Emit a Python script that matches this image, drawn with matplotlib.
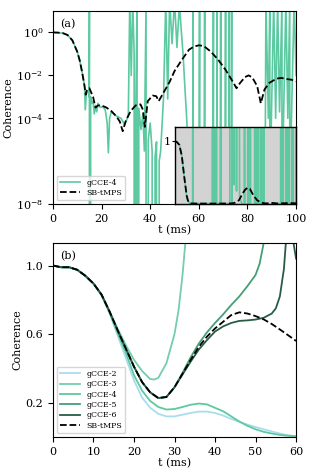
import matplotlib
matplotlib.use("Agg")
import matplotlib.pyplot as plt

plt.rcParams['font.family'] = 'DejaVu Serif'
plt.rcParams['mathtext.fontset'] = 'dejavuserif'
plt.rcParams['font.size'] = 8

# ---- panel (a): long-time coherence (log scale) ----
t_sb = [0, 2, 4, 6, 8, 10, 11, 12, 13, 13.5, 14, 15, 16.5, 17.5, 18.5, 20, 22, 24, 26, 27.5,
        28.7, 30, 32, 34, 36, 37, 37.8, 39, 41, 42.5, 43.5, 45, 48, 50, 53, 56, 58, 60, 62,
        65, 68, 71, 74, 75.5, 77, 79, 80.5, 82, 84, 85.5, 87, 89, 92, 94, 96, 98, 100]
log_sb = [0, -0.01, -0.03, -0.12, -0.37, -0.9, -1.3, -1.85, -2.5, -2.9, -2.66, -2.6, -3.0, -3.5,
          -3.4, -3.4, -3.5, -3.66, -3.9, -4.15, -4.6, -4.1, -3.66, -3.4, -3.35, -3.6, -4.4, -3.2,
          -2.94, -2.97, -3.2, -2.9, -2.3, -1.8, -1.28, -0.8, -0.66, -0.6, -0.63, -0.9, -1.28,
          -1.74, -2.3, -2.6, -2.35, -2.08, -2.0, -2.1, -2.5, -3.3, -2.66, -2.35, -2.15, -2.12,
          -2.17, -2.2, -2.28]
c_sb = [10 ** v for v in log_sb]

# gCCE-4 diverges after ~13 ms (negative values drop out of the log axis)
t_g4 = [0, 2, 4, 6, 8, 10, 11, 12, 13, 13.3, 13.8, 14.5, 14.9, 15.0, 15.1, 15.5, 16.0, 16.5,
        17.0, 17.5, 18.0, 18.5, 19.5, 20.5, 21.5, 22.3, 22.8, 23.3, 24.0, 25.0, 26.0, 28.0,
        29.5, 31.0,
        31.6, 32.2, 32.8, 33.4, 33.5, 34.0, 34.6, 34.7, 35.3, 36.2, 37.0, 37.6, 38.3, 38.4,
        39.2, 40.0, 40.8, 41.4, 42.0, 42.6, 43.2, 43.7, 44.3,
        45.5, 46.4, 47.2, 48.0, 49.0, 50.0, 51.0, 52.0, 53.5, 55.5,
        56.5, 57.5, 57.6, 57.7, 60.2, 60.3, 60.4, 62.3, 62.4, 62.5, 65.9, 66.0, 66.1, 67.4,
        67.5, 67.6, 68.9, 69.0, 69.1, 70.9, 71.0, 71.1, 72.4, 72.5, 72.6, 73.4, 73.5, 73.6,
        80.0, 87.3, 87.6, 88.6, 89.2, 89.3, 89.5, 90.8, 91.6, 92.4, 93.2, 94.2, 94.3, 94.5,
        95.8, 96.6, 97.4, 97.5, 97.7, 99.2, 100.0]
c_g4 = [1.0, 0.977, 0.933, 0.759, 0.427, 0.126, 0.05, 0.0141, 3.2e-3, 2.5e-4, 2.0e-3, 1.6e-3,
        1.0e-3, 50.0, -0.5, 1.0e-3, 5.0e-4, 6.3e-4, 1.6e-4, 4.0e-4, 2.0e-4, 5.0e-4, 3.2e-4,
        3.5e-4, 2.5e-4, 6.3e-5, 2.5e-6, 1.0e-4, 2.0e-4, 1.6e-4, 1.3e-4, 1.0e-4, 5.0e-5,
        1.3e-4,
        30.0, 1.0e-2, 30.0, 0.1, -1.0, 3.0e-5, 40.0, -1.0, 3.0e-4, 3.0e-5, 1.6e-4, 3.0e-6,
        20.0, -1.0, 1.0e-5, 6.0e-5, 3.0e-6, -1.0, 1.6e-6, 8.0e-6, -1.0, 1.0e-6, 3.0e-6,
        1.0e-3, 30.0, 8.0e-4, 30.0, 0.3, 30.0, 0.2, 20.0, 0.1, 1.0e-5,
        -1.0, 1.0e-6, 30.0, -1.0, 1.0e-6, 30.0, -1.0, 1.0e-6, 30.0, -1.0, 1.0e-6, 30.0, -1.0,
        1.0e-6, 30.0, -1.0, 1.0e-6, 30.0, -1.0, 1.0e-6, 30.0, -1.0, 1.0e-6, 30.0, -1.0,
        1.0e-6, 30.0, -1.0,
        1.0e-6, 1.0e-6, 30.0, 1.0e-4, 30.0, -1.0, 1.0e-6, 30.0, 1.0e-4, 30.0, 2.0e-4, 30.0,
        -1.0, 1.0e-6, 30.0, 1.0e-4, 30.0, -1.0, 1.0e-6, 30.0, 1.0e-2]
assert len(t_g4) == len(c_g4)

# ---- panel (b): short-time coherence (linear) ----
t_b = [0, 2, 4, 6, 8, 10, 12, 14, 16, 18, 20, 22, 24, 26, 28, 30, 32, 34, 36, 38, 40, 42,
       44, 46, 48, 50, 52, 54, 56, 58, 60]
c_tmps = [1.0, 0.99, 0.99, 0.975, 0.94, 0.895, 0.83, 0.73, 0.62, 0.515, 0.41, 0.32, 0.26,
          0.227, 0.233, 0.29, 0.37, 0.45, 0.526, 0.585, 0.633, 0.672, 0.711, 0.727, 0.72,
          0.705, 0.686, 0.659, 0.627, 0.594, 0.56]
c_cce2 = [1.0, 0.99, 0.99, 0.975, 0.94, 0.895, 0.825, 0.72, 0.59, 0.46, 0.33, 0.23, 0.17,
          0.135, 0.12, 0.12, 0.13, 0.14, 0.148, 0.148, 0.14, 0.125, 0.105, 0.088, 0.072,
          0.058, 0.045, 0.032, 0.02, 0.01, 0.004]
c_cce4 = [1.0, 0.99, 0.99, 0.975, 0.94, 0.895, 0.828, 0.725, 0.605, 0.49, 0.36, 0.27, 0.21,
          0.175, 0.16, 0.163, 0.175, 0.188, 0.195, 0.19, 0.17, 0.15, 0.12, 0.09, 0.065,
          0.045, 0.03, 0.02, 0.012, 0.007, 0.004]
t_cce3 = [0, 2, 4, 6, 8, 10, 12, 14, 16, 18, 20, 22, 24, 25, 26, 28, 30, 31, 32, 32.7]
c_cce3 = [1.0, 0.99, 0.99, 0.975, 0.94, 0.895, 0.83, 0.73, 0.63, 0.535, 0.45, 0.385, 0.338,
          0.335, 0.345, 0.43, 0.6, 0.74, 0.95, 1.14]
t_cce5 = [0, 2, 4, 6, 8, 10, 12, 14, 16, 18, 20, 22, 24, 26, 28, 30, 32, 34, 36, 38, 40, 42,
          44, 46, 48, 50, 51, 52]
c_cce5 = [1.0, 0.99, 0.99, 0.975, 0.94, 0.895, 0.83, 0.73, 0.62, 0.515, 0.41, 0.32, 0.26,
          0.227, 0.233, 0.29, 0.375, 0.465, 0.545, 0.61, 0.665, 0.715, 0.77, 0.82, 0.88,
          0.945, 1.01, 1.13]
t_cce6 = [0, 2, 4, 6, 8, 10, 12, 14, 16, 18, 20, 22, 24, 26, 28, 30, 32, 34, 36, 38, 40, 42,
          44, 46, 48, 50, 52, 54, 55, 56, 57, 57.5, 58.5, 59.3, 60]
c_cce6 = [1.0, 0.99, 0.99, 0.975, 0.94, 0.895, 0.83, 0.73, 0.62, 0.515, 0.41, 0.32, 0.26,
          0.227, 0.233, 0.29, 0.365, 0.44, 0.51, 0.565, 0.615, 0.645, 0.665, 0.677, 0.68,
          0.685, 0.695, 0.72, 0.75, 0.82, 0.98, 1.14, 1.25, 1.14, 1.04]

col_g2 = '#a9dcee'
col_g3 = '#74cdab'
col_g4 = '#5cc9a0'
col_g5 = '#449e76'
col_g6 = '#2a5c45'

fig = plt.figure(figsize=(3.17, 4.76), dpi=100)
ax1 = fig.add_axes([0.167, 0.571, 0.767, 0.406])
ax2 = fig.add_axes([0.167, 0.082, 0.767, 0.407])

# (a)
ax1.plot(t_g4, c_g4, color=col_g4, lw=1.2, label='gCCE-4')
ax1.plot(t_sb, c_sb, color='black', ls='--', lw=1.3, label='SB-tMPS')
ax1.set_yscale('log', nonpositive='clip')
ax1.set_ylim(1e-8, 10)
ax1.set_xlim(0, 100)
ax1.set_yticks([1, 1e-2, 1e-4, 1e-8])
ax1.minorticks_off()
ax1.set_xticks([0, 20, 40, 60, 80, 100])
ax1.set_xlabel('t (ms)', labelpad=1)
ax1.set_ylabel('Coherence', labelpad=2)
ax1.text(0.03, 0.96, '(a)', transform=ax1.transAxes, va='top', ha='left')
ax1.legend(loc='lower left', fontsize=5.7, handlelength=2.5, borderpad=0.4,
           labelspacing=0.3)

ins = ax1.inset_axes([0.5, 0.0, 0.5, 0.397])
ins.set_facecolor('#d3d3d3')
ins.plot(t_g4, c_g4, color=col_g4, lw=1.2)
ins.plot(t_sb, c_sb, color='black', ls='--', lw=1.3)
ins.set_xlim(0, 100)
ins.set_ylim(-0.01, 1.21)
ins.set_xticks([])
ins.set_yticks([1])
ins.tick_params(axis='y', length=2, pad=1)
for s in ins.spines.values():
    s.set_linewidth(1.0)

# (b)
ax2.plot(t_b, c_cce2, color=col_g2, lw=1.3, label='gCCE-2')
ax2.plot(t_cce3, c_cce3, color=col_g3, lw=1.3, label='gCCE-3')
ax2.plot(t_b, c_cce4, color=col_g4, lw=1.3, label='gCCE-4')
ax2.plot(t_cce5, c_cce5, color=col_g5, lw=1.3, label='gCCE-5')
ax2.plot(t_cce6, c_cce6, color=col_g6, lw=1.3, label='gCCE-6')
ax2.plot(t_b, c_tmps, color='black', ls='--', lw=1.3, label='SB-tMPS')
ax2.set_xlim(0, 60)
ax2.set_ylim(0.0, 1.13)
ax2.set_yticks([0.2, 0.6, 1.0])
ax2.set_xticks([0, 10, 20, 30, 40, 50, 60])
ax2.set_xlabel('t (ms)', labelpad=1)
ax2.set_ylabel('Coherence', labelpad=2)
ax2.text(0.03, 0.96, '(b)', transform=ax2.transAxes, va='top', ha='left')
ax2.legend(loc='lower left', fontsize=5.7, handlelength=2.5, borderpad=0.4,
           labelspacing=0.3)

fig.savefig('out.png', dpi=100)
